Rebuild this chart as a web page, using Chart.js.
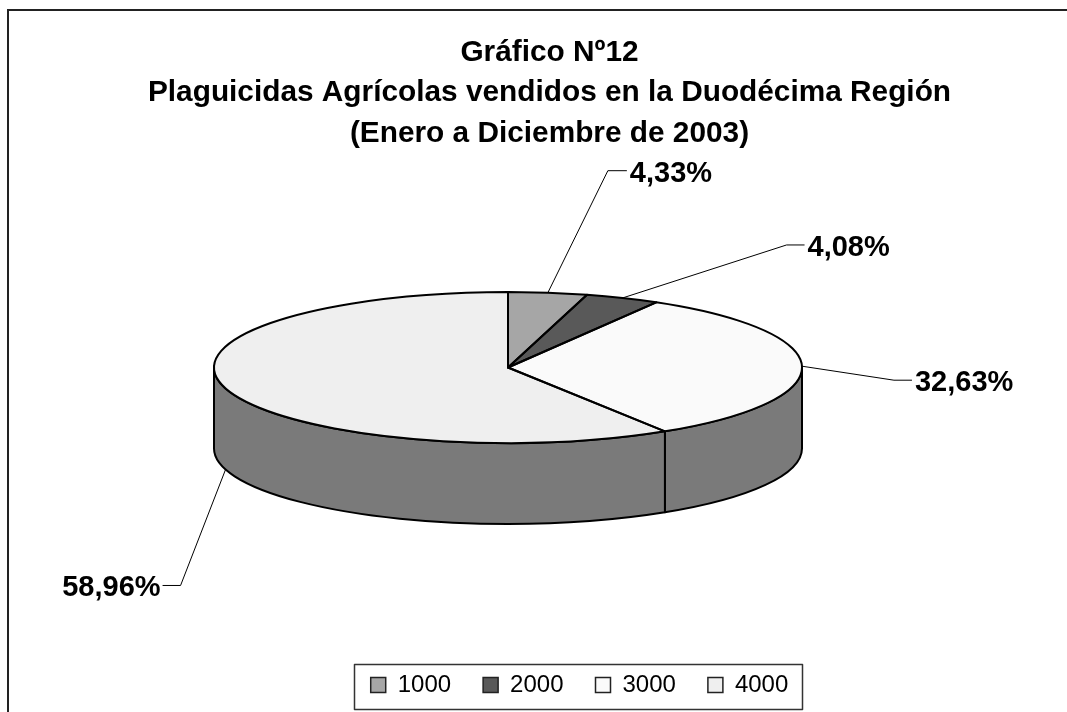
<!DOCTYPE html>
<html>
<head>
<meta charset="utf-8">
<style>html,body{margin:0;padding:0;background:#fff}canvas{display:block}</style>
<script src="https://cdn.jsdelivr.net/npm/chart.js@4"></script>
</head>
<body>
<div style="width:1067px;height:712px"><canvas id="c" width="1067" height="712"></canvas></div>
<script>
const categories = ['1000', '2000', '3000', '4000'];
const shares = [4.33, 4.08, 32.63, 58.96];
const shareLabels = ['4,33%', '4,08%', '32,63%', '58,96%'];
const sliceColors = ['#a6a6a6', '#595959', '#fafafa', '#efefef'];
const titleLines = ['Gráfico Nº12', 'Plaguicidas Agrícolas vendidos en la Duodécima Región', '(Enero a Diciembre de 2003)'];

const wallColor = '#7a7a7a';
const pie = { cx: 508, cy: 367.5, rx: 294, ry: 75.5, depth: 81 };
// elbow of each leader relative to its anchor on the pie, and direction of the stub
const leaders = [
  { dx: 60, dy: -122, stub: 19 },
  { dx: 164, dy: -53, stub: 18 },
  { dx: 92, dy: 14, stub: 18 },
  { dx: -45, dy: 116, stub: -18 }
];
const FONT = '"Liberation Sans", Arial, sans-serif';
const legendShift = 30;

function withPieTransform(ctx, arc, fn) {
  ctx.save();
  ctx.translate(pie.cx, pie.cy);
  ctx.scale(1, pie.ry / pie.rx);
  ctx.translate(-arc.x, -arc.y);
  fn();
  ctx.restore();
}

const pie3d = {
  id: 'pie3d',
  beforeDatasetDraw(chart) {
    const ctx = chart.ctx;
    const arcs = chart.getDatasetMeta(0).data;
    // walls: only the part of each slice on the near half of the ellipse
    arcs.forEach(a => {
      const lo = Math.max(a.startAngle, 0), hi = Math.min(a.endAngle, Math.PI);
      if (hi <= lo) return;
      ctx.beginPath();
      ctx.ellipse(pie.cx, pie.cy, pie.rx, pie.ry, 0, lo, hi);
      ctx.ellipse(pie.cx, pie.cy + pie.depth, pie.rx, pie.ry, 0, hi, lo, true);
      ctx.closePath();
      ctx.fillStyle = wallColor;
      ctx.fill();
      ctx.strokeStyle = '#000';
      ctx.lineWidth = 2;
      ctx.lineJoin = 'round';
      ctx.stroke();
    });
    ctx.save();
    ctx.translate(pie.cx, pie.cy);
    ctx.scale(1, pie.ry / pie.rx);
    ctx.translate(-arcs[0].x, -arcs[0].y);
  },
  afterDatasetDraw(chart) {
    const ctx = chart.ctx;
    ctx.restore();
    const arcs = chart.getDatasetMeta(0).data;
    // slice outlines with an even pen
    arcs.forEach(a => {
      withPieTransform(ctx, a, () => {
        ctx.beginPath();
        ctx.moveTo(a.x, a.y);
        ctx.arc(a.x, a.y, a.outerRadius, a.startAngle, a.endAngle);
        ctx.closePath();
      });
      ctx.strokeStyle = '#000';
      ctx.lineWidth = 2;
      ctx.lineJoin = 'round';
      ctx.stroke();
    });
    // leaders and value labels
    arcs.forEach((a, i) => {
      const mid = (a.startAngle + a.endAngle) / 2;
      const x0 = pie.cx + pie.rx * Math.cos(mid);
      const y0 = pie.cy + pie.ry * Math.sin(mid) + (Math.sin(mid) > 0 ? pie.depth : 0);
      const l = leaders[i];
      const ex = x0 + l.dx, ey = y0 + l.dy;
      ctx.beginPath();
      ctx.moveTo(x0, y0);
      ctx.lineTo(ex, ey);
      ctx.lineTo(ex + l.stub, ey);
      ctx.strokeStyle = '#000';
      ctx.lineWidth = 1;
      ctx.stroke();
      ctx.fillStyle = '#000';
      ctx.font = 'bold 29px ' + FONT;
      ctx.textBaseline = 'middle';
      ctx.textAlign = l.stub > 0 ? 'left' : 'right';
      ctx.fillText(shareLabels[i], ex + l.stub + (l.stub > 0 ? 3 : -2), ey + 3);
    });
  }
};

const frame = {
  id: 'frame',
  beforeDraw(chart) {
    const ctx = chart.ctx;
    ctx.save();
    ctx.fillStyle = '#fff';
    ctx.fillRect(0, 0, chart.width, chart.height);
    ctx.strokeStyle = '#222';
    ctx.lineWidth = 2;
    ctx.strokeRect(8, 10, 1100, 800);
    ctx.restore();
    // place the legend so that it sits in its box under the pie
    const lg = chart.legend;
    lg.left += legendShift; lg.right += legendShift;
    lg.top = 641; lg.bottom = 641 + lg.height;
  },
  afterDraw(chart) {
    const lg = chart.legend, ctx = chart.ctx;
    lg.left -= legendShift; lg.right -= legendShift;
    ctx.save();
    ctx.strokeStyle = '#333';
    ctx.lineWidth = 1.5;
    ctx.strokeRect(354.5, 664.5, 448, 45);
    ctx.restore();
  }
};

new Chart(document.getElementById('c'), {
  type: 'pie',
  data: {
    labels: categories,
    datasets: [{ data: shares, backgroundColor: sliceColors, borderWidth: 0, hoverOffset: 0 }]
  },
  plugins: [frame, pie3d],
  options: {
    responsive: false,
    animation: false,
    radius: pie.rx,
    layout: { padding: { left: 32, top: 32 } },
    plugins: {
      tooltip: { enabled: false },
      title: {
        display: true,
        text: titleLines,
        color: '#000',
        font: { family: FONT, size: 29.8, weight: 'bold', lineHeight: 1.37 },
        padding: 0
      },
      legend: {
        display: true,
        position: 'bottom',
        labels: {
          color: '#000',
          boxWidth: 15,
          boxHeight: 15,
          padding: 32,
          font: { family: FONT, size: 24 },
          generateLabels(chart) {
            return categories.map((c, i) => ({
              text: c, fillStyle: sliceColors[i], strokeStyle: '#222', lineWidth: 1.5, index: i, hidden: false
            }));
          }
        }
      }
    }
  }
});
</script>
</body>
</html>
